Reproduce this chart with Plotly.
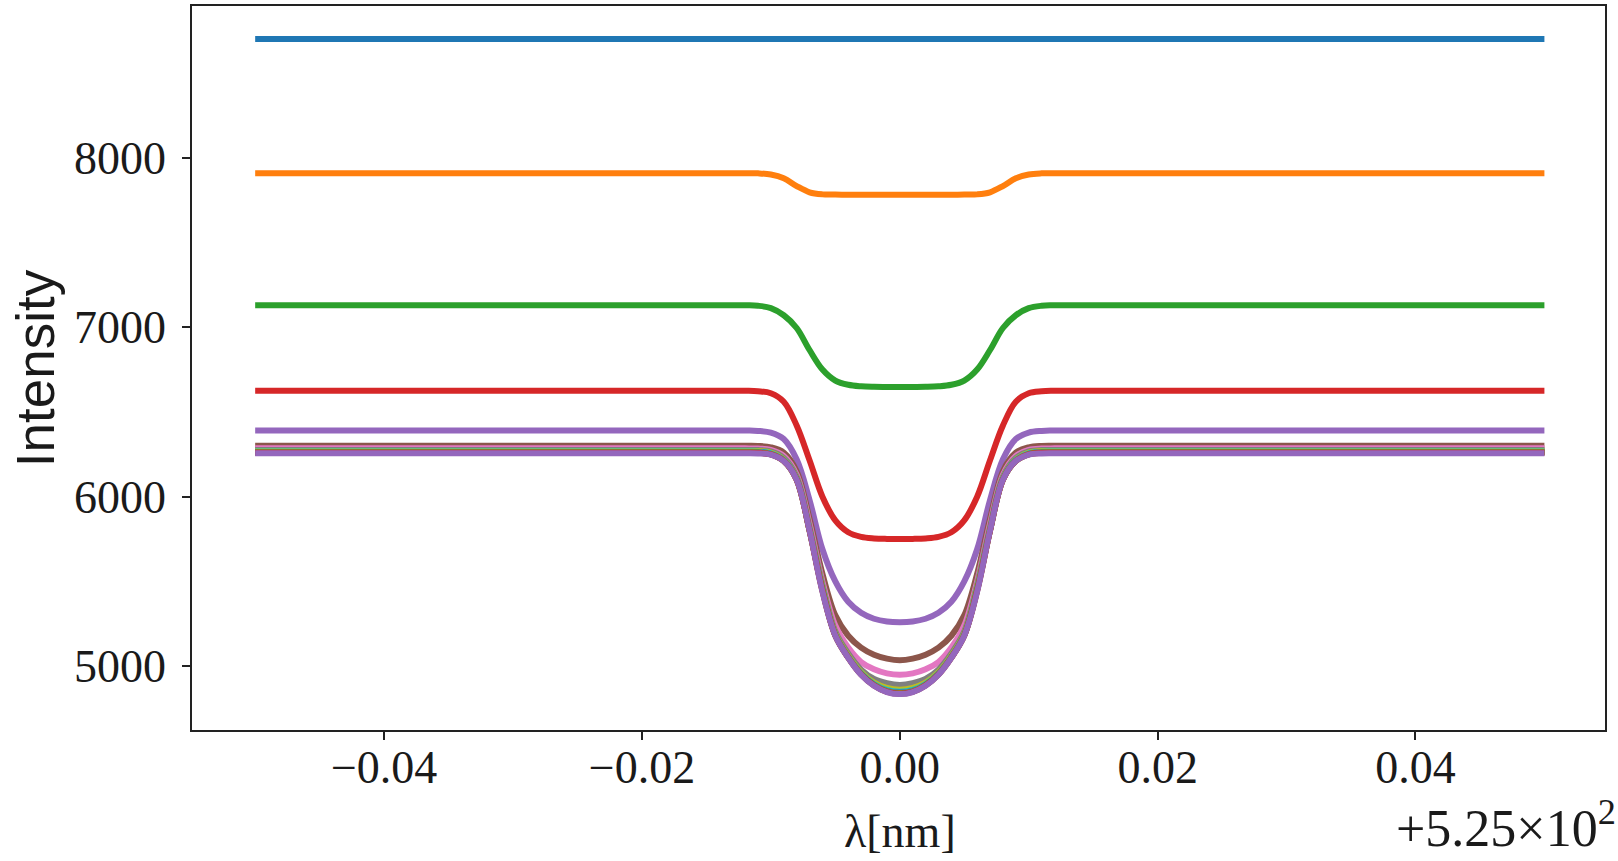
import plotly.graph_objects as go

# wavelength offsets from 525 nm (nm)
x_offsets = [-0.050, -0.012, -0.011, -0.010, -0.009, -0.008, -0.007, -0.006, -0.005, -0.004,
             -0.003, -0.002, -0.001, 0.000, 0.001, 0.002, 0.003, 0.004, 0.005, 0.006,
             0.007, 0.008, 0.009, 0.010, 0.011, 0.012, 0.050]

s00 = [8700] * 27
s01 = [7908, 7908, 7907, 7900, 7878, 7832, 7795, 7783, 7782, 7781, 7781, 7781, 7781, 7781,
       7781, 7781, 7781, 7781, 7782, 7783, 7795, 7832, 7878, 7900, 7907, 7908, 7908]
s02 = [7129, 7129, 7126, 7112, 7070, 6995, 6865, 6750, 6685, 6660, 6651, 6648, 6647, 6647,
       6647, 6648, 6651, 6660, 6685, 6750, 6865, 6995, 7070, 7112, 7126, 7129, 7129]
s03 = [6625, 6625, 6622, 6610, 6560, 6420, 6215, 6000, 5860, 5790, 5763, 5754, 5751, 5750,
       5751, 5754, 5763, 5790, 5860, 6000, 6215, 6420, 6560, 6610, 6622, 6625, 6625]
s04 = [6390, 6390, 6388, 6378, 6340, 6220, 5980, 5690, 5500, 5380, 5315, 5280, 5264, 5260,
       5264, 5280, 5315, 5380, 5500, 5690, 5980, 6220, 6340, 6378, 6388, 6390, 6390]
s05 = [6300, 6300, 6299, 6291, 6260, 6150, 5870, 5545, 5300, 5180, 5110, 5068, 5045, 5035,
       5045, 5068, 5110, 5180, 5300, 5545, 5870, 6150, 6260, 6291, 6299, 6300, 6300]
s06 = [6285, 6285, 6284, 6276, 6240, 6130, 5840, 5500, 5240, 5110, 5025, 4982, 4958, 4950,
       4958, 4982, 5025, 5110, 5240, 5500, 5840, 6130, 6240, 6276, 6284, 6285, 6285]
s07 = [6276, 6276, 6275, 6267, 6228, 6118, 5822, 5480, 5205, 5075, 4980, 4925, 4900, 4890,
       4900, 4925, 4980, 5075, 5205, 5480, 5822, 6118, 6228, 6267, 6275, 6276, 6276]
s08 = [6270, 6270, 6269, 6260, 6220, 6110, 5812, 5468, 5192, 5062, 4965, 4903, 4872, 4862,
       4872, 4903, 4965, 5062, 5192, 5468, 5812, 6110, 6220, 6260, 6269, 6270, 6270]
s09 = [6266, 6266, 6265, 6256, 6216, 6106, 5807, 5460, 5186, 5056, 4958, 4895, 4860, 4850,
       4860, 4895, 4958, 5056, 5186, 5460, 5807, 6106, 6216, 6256, 6265, 6266, 6266]
s10 = [6264, 6264, 6263, 6253, 6214, 6104, 5804, 5455, 5184, 5054, 4955, 4891, 4855, 4845,
       4855, 4891, 4955, 5054, 5184, 5455, 5804, 6104, 6214, 6253, 6263, 6264, 6264]
s11 = [6262, 6262, 6261, 6251, 6212, 6102, 5802, 5452, 5183, 5053, 4954, 4889, 4852, 4842,
       4852, 4889, 4954, 5053, 5183, 5452, 5802, 6102, 6212, 6251, 6261, 6262, 6262]
s12 = [6261, 6261, 6260, 6250, 6211, 6101, 5801, 5448, 5182, 5052, 4953, 4888, 4850, 4840,
       4850, 4888, 4953, 5052, 5182, 5448, 5801, 6101, 6211, 6250, 6260, 6261, 6261]
s13 = [6259, 6259, 6258, 6249, 6210, 6100, 5800, 5445, 5181, 5051, 4951, 4886, 4849, 4838,
       4849, 4886, 4951, 5051, 5181, 5445, 5800, 6100, 6210, 6249, 6258, 6259, 6259]
s14 = [6256, 6256, 6255, 6248, 6210, 6100, 5800, 5440, 5180, 5050, 4950, 4885, 4848, 4836,
       4848, 4885, 4950, 5050, 5180, 5440, 5800, 6100, 6210, 6248, 6255, 6256, 6256]

series = [s00, s01, s02, s03, s04, s05, s06, s07, s08, s09, s10, s11, s12, s13, s14]

x_tick_vals = [-0.04, -0.02, 0.00, 0.02, 0.04]
x_tick_text = ["\u22120.04", "\u22120.02", "0.00", "0.02", "0.04"]
y_tick_vals = [5000, 6000, 7000, 8000]
y_tick_text = ["5000", "6000", "7000", "8000"]

colors = ["#1f77b4", "#ff7f0e", "#2ca02c", "#d62728", "#9467bd",
          "#8c564b", "#e377c2", "#7f7f7f", "#bcbd22", "#17becf"]

fig = go.Figure()
for i, ys in enumerate(series):
    fig.add_trace(go.Scatter(
        x=x_offsets, y=ys, mode="lines",
        line=dict(color=colors[i % len(colors)], width=6, shape="spline", smoothing=1.0),
        showlegend=False, hoverinfo="skip"))

serif = "Liberation Serif, DejaVu Serif, serif"
tick_font = dict(family=serif, size=46, color="#1a1a1a")

fig.update_layout(
    width=1618, height=861,
    margin=dict(l=192, r=13, t=4, b=131),
    paper_bgcolor="white", plot_bgcolor="white",
    xaxis=dict(range=[-0.0549, 0.0547], tickvals=x_tick_vals, ticktext=x_tick_text,
               showgrid=False, zeroline=False, showline=True, mirror=True,
               linecolor="#222", linewidth=1.6, ticks="outside", ticklen=8, tickwidth=1.6,
               tickcolor="#222", tickfont=tick_font, ticklabelstandoff=-12),
    yaxis=dict(range=[4624, 8894], tickvals=y_tick_vals, ticktext=y_tick_text,
               showgrid=False, zeroline=False, showline=True, mirror=True,
               linecolor="#222", linewidth=1.6, ticks="outside", ticklen=8, tickwidth=1.6,
               tickcolor="#222", tickfont=tick_font, ticklabelstandoff=7),
    annotations=[
        dict(text="\u03bb[nm]", xref="x", yref="paper", x=0.0, y=-0.14,
             xanchor="center", yanchor="middle", showarrow=False,
             font=dict(family=serif, size=46, color="#1a1a1a")),
        dict(text="+5.25\u00d710<sup>2</sup>", xref="paper", yref="paper", x=1.009, y=-0.13,
             xanchor="right", yanchor="middle", showarrow=False,
             font=dict(family=serif, size=52, color="#1a1a1a")),
        dict(text="Intensity", xref="paper", yref="paper", x=-0.111, y=0.5,
             xanchor="center", yanchor="middle", textangle=-90, showarrow=False,
             font=dict(family="Liberation Sans, Arial, sans-serif", size=53, color="#1a1a1a")),
    ],
)

fig.write_html("out.html")
